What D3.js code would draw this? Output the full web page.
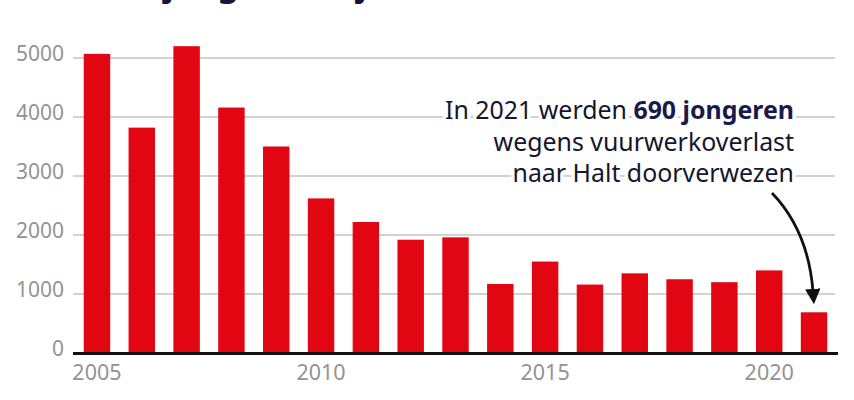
<!DOCTYPE html>
<html>
<head>
<meta charset="utf-8">
<script src="https://cdn.jsdelivr.net/npm/d3@7"></script>
<style>
  html, body { margin: 0; padding: 0; background: #fff; }
  svg { display: block; }
</style>
</head>
<body>
<svg id="chart" width="854" height="400"></svg>
<script>
const years = [2005, 2006, 2007, 2008, 2009, 2010, 2011, 2012, 2013, 2014, 2015, 2016, 2017, 2018, 2019, 2020, 2021];
const referrals = [5070, 3820, 5200, 4160, 3500, 2620, 2220, 1920, 1960, 1170, 1550, 1160, 1350, 1250, 1200, 1400, 690];
const yTicks = [0, 1000, 2000, 3000, 4000, 5000];
const xTickLabels = [2005, 2010, 2015, 2020];
const titleText = "Steeds minder jongeren bij Halt";
const noteLines = [
  [{t: "In 2021 werden ", b: false}, {t: "690 jongeren", b: true}],
  [{t: "wegens vuurwerkoverlast", b: false}],
  [{t: "naar Halt doorverwezen", b: false}]
];

(function () {
const svg = d3.select("#chart");
const mLeft = 73, mRight = 838, mTop = 58, mBottom = 353;
const FONT = "'Noto Sans', 'Open Sans', sans-serif";

const x = d3.scaleBand().domain(years).range([mLeft, mRight]).paddingInner(0.41).paddingOuter(0.24);
const y = d3.scaleLinear().domain([0, 5000]).range([mBottom, mTop]);

// Title (cut off at top, as in the reference)
const title = svg.append("text")
  .attr("y", -4)
  .attr("font-family", FONT)
  .attr("font-weight", 700)
  .attr("font-size", 34)
  .attr("fill", "#14143c")
  .text(titleText);
const jIdx = titleText.indexOf("j");
const offs = title.node().getSubStringLength(0, jIdx);
title.attr("x", 164 - offs);

// gridlines
svg.append("g").selectAll("line")
  .data(yTicks.filter(d => d > 0))
  .join("line")
  .attr("x1", mLeft).attr("x2", mRight - 3)
  .attr("y1", d => y(d)).attr("y2", d => y(d))
  .attr("stroke", "#d2d2d2").attr("stroke-width", 2);

// y labels
svg.append("g").selectAll("text")
  .data(yTicks)
  .join("text")
  .attr("x", 64)
  .attr("y", d => y(d) + 3)
  .attr("text-anchor", "end")
  .attr("font-family", FONT)
  .attr("font-size", 21)
  .attr("fill", "#939393")
  .text(d => d);

// bars
svg.append("g").selectAll("rect")
  .data(years.map((yr, i) => ({yr, v: referrals[i]})))
  .join("rect")
  .attr("x", d => x(d.yr))
  .attr("width", x.bandwidth())
  .attr("y", d => y(d.v))
  .attr("height", d => y(0) - y(d.v))
  .attr("fill", "#e20613");

// baseline
svg.append("line")
  .attr("x1", mLeft).attr("x2", mRight)
  .attr("y1", y(0) + 0.5).attr("y2", y(0) + 0.5)
  .attr("stroke", "#111").attr("stroke-width", 3);

// x labels
svg.append("g").selectAll("text")
  .data(xTickLabels)
  .join("text")
  .attr("x", d => x(d) + x.bandwidth() / 2)
  .attr("y", 380)
  .attr("text-anchor", "middle")
  .attr("font-family", FONT)
  .attr("font-size", 21.5)
  .attr("fill", "#939393")
  .text(d => d);

// annotation
const note = svg.append("g");
noteLines.forEach((parts, i) => {
  const t = note.append("text")
    .attr("x", 794)
    .attr("y", 119 + i * 31.5)
    .attr("text-anchor", "end")
    .attr("font-family", FONT)
    .attr("font-size", 24.9)
    .attr("fill", "#15152e")
    .attr("stroke", "#fff")
    .attr("stroke-width", 7)
    .attr("stroke-linejoin", "round")
    .attr("paint-order", "stroke");
  parts.forEach(p => {
    t.append("tspan")
      .attr("font-weight", p.b ? 700 : 400)
      .attr("fill", p.b ? "#1a1a4a" : "#15152e")
      .text(p.t);
  });
});

// arrow
const defs = svg.append("defs");
defs.append("marker")
  .attr("id", "arrowhead")
  .attr("viewBox", "0 0 10 10")
  .attr("refX", 2).attr("refY", 5)
  .attr("markerWidth", 5.5).attr("markerHeight", 5.5)
  .attr("markerUnits", "strokeWidth")
  .attr("orient", "auto")
  .append("path")
  .attr("d", "M0,0 L10,5 L0,10 Z")
  .attr("fill", "#111");

const ax = x(2021) + x.bandwidth() / 2;
svg.append("path")
  .attr("d", `M772,193 C796,218 ${ax - 4},252 ${ax - 1},292`)
  .attr("fill", "none")
  .attr("stroke", "#111")
  .attr("stroke-width", 2.8)
  .attr("marker-end", "url(#arrowhead)");
})();
</script>
</body>
</html>
